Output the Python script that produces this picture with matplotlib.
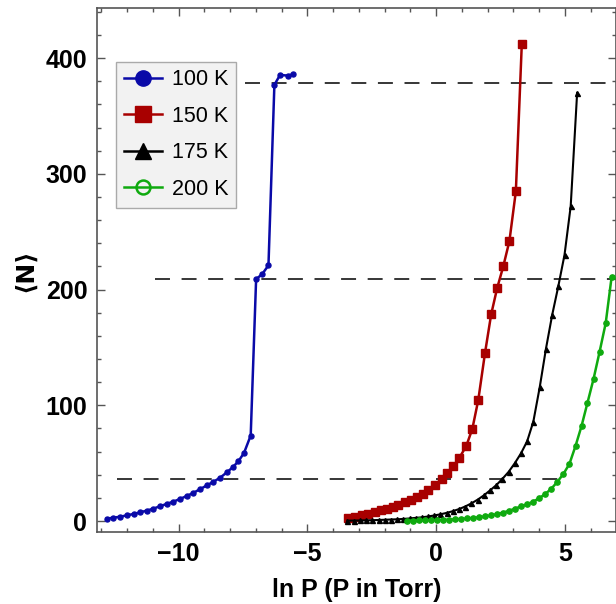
import matplotlib
matplotlib.use("Agg")
from matplotlib import pyplot as plt
from matplotlib.lines import Line2D
from matplotlib.ticker import MultipleLocator

plt.rcParams['font.family'] = ['Liberation Sans', 'DejaVu Sans']

# 100 K
x100 = [-12.79, -12.53, -12.27, -12.01, -11.75, -11.49, -11.24, -10.98, -10.72, -10.46,
        -10.20, -9.94, -9.68, -9.43, -9.17, -8.91, -8.65, -8.39, -8.13, -7.90,
        -7.68, -7.46, -7.20, -6.99, -6.75, -6.51, -6.28, -6.06, -5.77, -5.56]
y100 = [2.0, 2.9, 3.7, 4.9, 6.1, 7.5, 9.0, 10.7, 12.8, 14.8,
        16.8, 19.1, 21.7, 24.3, 27.5, 30.7, 33.9, 37.4, 42.0, 46.4,
        51.6, 58.8, 73.9, 209.0, 213.5, 221.0, 377.0, 385.5, 385.0, 386.0]

# 150 K
x150 = [-3.41, -3.15, -2.89, -2.63, -2.37, -2.15, -1.91, -1.68, -1.46, -1.20,
        -0.98, -0.75, -0.52, -0.30, -0.04, 0.22, 0.44, 0.67, 0.90, 1.17,
        1.41, 1.64, 1.90, 2.14, 2.37, 2.61, 2.85, 3.10, 3.33]
y150 = [2.3, 3.5, 5.0, 6.4, 7.8, 9.3, 10.7, 12.5, 14.2, 16.2,
        18.3, 20.6, 23.5, 26.4, 31.3, 36.2, 41.4, 47.2, 54.5, 64.6,
        79.7, 104.6, 145.0, 178.5, 201.0, 220.0, 242.0, 285.0, 412.0]

# 175 K
x175 = [-3.44, -3.20, -2.96, -2.72, -2.48, -2.23, -1.99, -1.75, -1.51, -1.27,
        -1.03, -0.79, -0.55, -0.31, -0.07, 0.17, 0.41, 0.65, 0.89, 1.13,
        1.37, 1.62, 1.86, 2.10, 2.34, 2.58, 2.82, 3.06, 3.30, 3.54,
        3.78, 4.03, 4.27, 4.51, 4.75, 4.99, 5.23, 5.48]
y175 = [0.3, 0.4, 0.5, 0.6, 0.7, 0.9, 1.1, 1.3, 1.5, 1.8,
        2.2, 2.7, 3.2, 3.9, 4.8, 5.8, 7.0, 8.5, 10.3, 12.5,
        15.2, 18.5, 22.2, 26.5, 31.0, 36.5, 42.5, 50.0, 58.5, 69.0,
        86.0, 116.0, 149.0, 178.0, 203.0, 230.0, 272.0, 370.0]

# 200 K
x200 = [-1.14, -0.91, -0.67, -0.44, -0.20, 0.03, 0.27, 0.50, 0.73, 0.97,
        1.20, 1.44, 1.67, 1.90, 2.14, 2.37, 2.61, 2.84, 3.08, 3.31,
        3.54, 3.78, 4.01, 4.25, 4.48, 4.71, 4.95, 5.18, 5.42, 5.65,
        5.88, 6.12, 6.35, 6.59, 6.82]
y200 = [0.3, 0.4, 0.5, 0.6, 0.7, 0.8, 1.0, 1.2, 1.5, 1.8,
        2.2, 2.7, 3.3, 4.0, 4.9, 6.0, 7.3, 8.9, 10.7, 12.8,
        14.5, 16.8, 19.8, 23.5, 28.0, 33.8, 40.8, 49.3, 65.0, 82.0,
        102.0, 123.0, 146.0, 171.0, 211.0]

# dashed reference levels: (y, x start, x end)
ref_y = [378.5, 209.5, 36.0]
ref_x0 = [-7.42, -10.91, -12.4]
ref_x1 = [7.0, 7.0, 5.07]

labels = ['100 K', '150 K', '175 K', '200 K']
blue, red, black, green = '#0A0AA8', '#A80000', '#000000', '#0FAA0F'

fig = plt.figure(figsize=(6.16, 6.04), dpi=100)
ax = fig.add_axes([0.1575, 0.1192, 0.8425, 0.8676])

for y, a, b in zip(ref_y, ref_x0, ref_x1):
    ax.plot([a, b], [y, y], color='black', lw=1.1, dashes=(9.8, 7.6), zorder=1)

ax.plot(x100, y100, color=blue, lw=1.8, marker='o', ms=3.6, zorder=3)
ax.plot(x150, y150, color=red, lw=1.8, marker='s', ms=5.4, zorder=3)
ax.plot(x175, y175, color=black, lw=1.5, marker='^', ms=3.6, zorder=3)
ax.plot(x200, y200, color=green, lw=1.8, marker='o', ms=3.8, zorder=3)

ax.set_xlim(-13.17, 6.99)
ax.set_ylim(-9.5, 443.4)
ax.xaxis.set_major_locator(MultipleLocator(5))
ax.xaxis.set_minor_locator(MultipleLocator(1))
ax.yaxis.set_major_locator(MultipleLocator(100))
ax.yaxis.set_minor_locator(MultipleLocator(20))
ax.tick_params(which='both', direction='in', top=True, right=True, color='#555555', width=1.0)
ax.tick_params(which='major', length=6.0, labelsize=18, pad=7)
ax.tick_params(which='minor', length=3.0)
for lab in ax.get_xticklabels() + ax.get_yticklabels():
    lab.set_fontweight('bold')
for s in ax.spines.values():
    s.set_color('#555555')
    s.set_linewidth(1.2)

ax.set_xlabel('ln P (P in Torr)', fontsize=18, fontweight='bold', labelpad=9)
ax.set_ylabel('\u27e8N\u27e9', fontsize=18, fontweight='bold', labelpad=6,
              family=['DejaVu Sans'])

handles = [
    Line2D([], [], color=blue, lw=1.8, marker='o', ms=11),
    Line2D([], [], color=red, lw=1.8, marker='s', ms=11),
    Line2D([], [], color=black, lw=1.8, marker='^', ms=12),
    Line2D([], [], color=green, lw=1.8, marker='o', ms=10, mfc='none', mew=1.8),
]
leg = ax.legend(handles, labels, loc='upper left', bbox_to_anchor=(0.0366, 0.897),
                borderaxespad=0, fontsize=15.5, fancybox=False, framealpha=1,
                facecolor='#F2F2F2', edgecolor='#AAAAAA', labelspacing=0.72,
                handlelength=1.8, handletextpad=0.45, borderpad=0.35)
leg.get_frame().set_linewidth(1.0)

fig.savefig('out.png', dpi=100)
